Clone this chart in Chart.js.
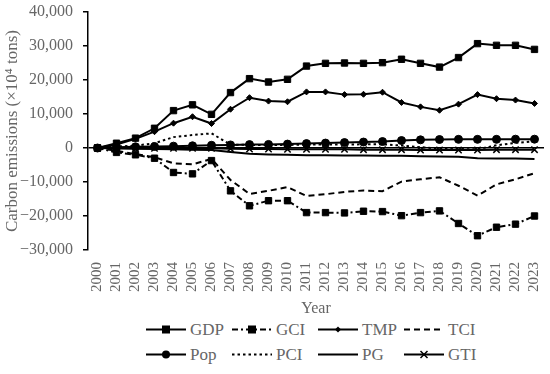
<!DOCTYPE html>
<html>
<head>
<meta charset="utf-8">
<script src="https://cdn.jsdelivr.net/npm/chart.js@4"></script>
<style>
  body { margin: 0; background: #fff; font-family: "Liberation Serif", serif; }
  #wrap { position: relative; width: 550px; height: 318px; }
  #legend { position: absolute; left: 146px; top: 320px; display: grid;
    grid-template-columns: 86px 86px 86px 86px; row-gap: 6px; }
  .item { display: flex; align-items: center; height: 19px; font-size: 17px; color: #666; }
  .item svg { margin-right: 2px; }
</style>
</head>
<body>
<div id="wrap"><canvas id="chart"></canvas></div>
<div id="legend"></div>
<script>
// Years on the x axis
const years = ['2000','2001','2002','2003','2004','2005','2006','2007','2008','2009','2010','2011',
  '2012','2013','2014','2015','2016','2017','2018','2019','2020','2021','2022','2023'];

// Series values (x10^4 tons)
const gdp = [0, 1400, 2900, 5800, 11000, 12700, 9900, 16300, 20400, 19400, 20200, 24100,
  24900, 25000, 24900, 25100, 26100, 24900, 23800, 26600, 30700, 30200, 30200, 29000];
const gci = [0, -1300, -2000, -3000, -7200, -7600, -3700, -12600, -17000, -15500, -15500, -19000,
  -19000, -19100, -18600, -18700, -19900, -19000, -18500, -22200, -25800, -23300, -22400, -20000];
const tmp = [0, 1000, 2700, 4800, 7300, 9200, 7200, 11400, 14800, 13800, 13600, 16500,
  16500, 15700, 15800, 16400, 13400, 12100, 11100, 12900, 15700, 14500, 14100, 13100];
const tci = [0, -800, -1800, -2700, -4500, -4800, -3200, -9400, -13500, -12600, -11500, -14100,
  -13600, -12900, -12500, -12700, -9900, -9200, -8600, -11100, -14000, -10700, -9200, -7400];
const pop = [0, 200, 350, 450, 550, 650, 800, 900, 1000, 1050, 1150, 1300,
  1450, 1600, 1750, 1900, 2200, 2400, 2500, 2550, 2550, 2550, 2600, 2600];
const pci = [0, 400, 700, 1400, 3200, 3800, 4300, 1000, 900, 900, 900, 1000,
  1000, 1000, 1100, 1100, 700, 200, -100, -300, -400, 800, 1500, 2000];
const pg = [0, -100, -200, -300, -400, -500, -600, -1200, -1700, -1900, -2000, -2100,
  -2100, -2200, -2200, -2300, -2300, -2400, -2500, -2600, -3000, -3100, -3100, -3200];
const gti = [0, -100, -100, -100, -100, -100, -100, -200, -300, -300, -400, -400,
  -400, -400, -500, -500, -500, -600, -600, -600, -600, -500, -500, -500];

// Axis ticks
const yTicks = [-30000, -20000, -10000, 0, 10000, 20000, 30000, 40000];

function series(label, data, dash, point, radius) {
  return {
    label: label, data: data,
    borderColor: '#000', backgroundColor: '#000',
    borderWidth: 2, borderDash: dash,
    pointStyle: point, pointRadius: point ? radius : 0,
    pointBorderWidth: point === 'crossRot' ? 1.5 : 1,
    tension: 0
  };
}

const datasets = [
  series('GDP', gdp, [], 'rect', 4.5),
  series('GCI', gci, [6, 3, 2, 3], 'rect', 4.5),
  series('TMP', tmp, [], 'rectRot', 3),
  series('TCI', tci, [6, 4], false, 0),
  series('Pop', pop, [], 'circle', 4),
  series('PCI', pci, [2.5, 3], false, 0),
  series('PG', pg, [], false, 0),
  series('GTI', gti, [], 'crossRot', 4.5)
];

const tickFont = { family: '"Liberation Serif", serif', size: 16 };
const yearFont = { family: '"Liberation Serif", serif', size: 15 };

new Chart(document.getElementById('chart'), {
  type: 'line',
  data: { labels: years, datasets: datasets },
  options: {
    responsive: true,
    maintainAspectRatio: false,
    animation: false,
    layout: { padding: 0 },
    plugins: { legend: { display: false }, tooltip: { enabled: false } },
    scales: {
      x: {
        offset: true,
        grid: { display: false },
        border: { display: false },
        ticks: { color: '#666', font: yearFont, minRotation: 90, maxRotation: 90, autoSkip: false, padding: 4 },
        title: { display: true, text: 'Year', color: '#666', font: tickFont, padding: { top: 3, bottom: 0 } },
        afterFit: s => { s.height = 68; s.paddingLeft = 0; s.paddingRight = 0; }
      },
      y: {
        min: -30000, max: 40000,
        afterBuildTicks: s => { s.ticks = yTicks.map(v => ({ value: v })); },
        grid: {
          color: c => (c.tick && c.tick.value === 0 ? '#000' : 'rgba(0,0,0,0)'),
          tickColor: '#000', tickLength: 5, lineWidth: 1.5
        },
        border: { display: true, color: '#000', width: 1.5 },
        ticks: { color: '#666', font: tickFont, padding: 10,
          callback: v => v.toLocaleString('en-US').replace('-', '\u2212') },
        title: { display: true, text: 'Carbon emissions (\u00d710\u2074 tons)', color: '#666',
          font: { family: '"Liberation Serif", serif', size: 17 }, padding: { top: 2, bottom: 0 } },
        afterFit: s => { s.width = 88; s.paddingTop = 12; s.paddingBottom = 0; }
      }
    }
  }
});

// HTML legend: a line sample with the marker, then the label
const legend = document.getElementById('legend');
datasets.forEach(d => {
  let mark = '';
  if (d.pointStyle === 'rect') mark = '<rect x="16" y="5.5" width="8" height="8" fill="#000"/>';
  if (d.pointStyle === 'rectRot') mark = '<path d="M20 6.5 L23 9.5 L20 12.5 L17 9.5 Z" fill="#000"/>';
  if (d.pointStyle === 'circle') mark = '<circle cx="20" cy="9.5" r="4" fill="#000"/>';
  if (d.pointStyle === 'crossRot') mark = '<path d="M16.5 6 L23.5 13 M23.5 6 L16.5 13" stroke="#000" stroke-width="1.5"/>';
  const dash = d.borderDash.length ? ' stroke-dasharray="' + d.borderDash.join(' ') + '"' : '';
  const el = document.createElement('div');
  el.className = 'item';
  el.innerHTML = '<svg width="42" height="19"><line x1="0" y1="9.5" x2="40" y2="9.5" stroke="#000" stroke-width="2"' +
    dash + '/>' + mark + '</svg><span>' + d.label + '</span>';
  legend.appendChild(el);
});
</script>
</body>
</html>
